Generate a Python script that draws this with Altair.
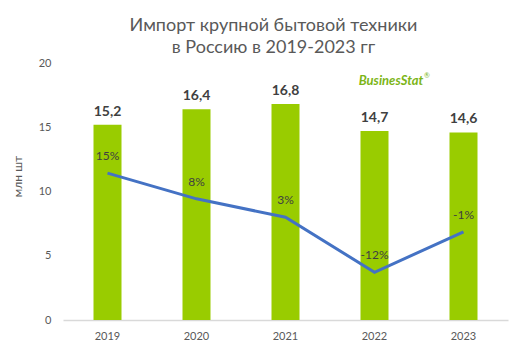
import altair as alt
import pandas as pd

years = ["2019", "2020", "2021", "2022", "2023"]
imports = [15.2, 16.4, 16.8, 14.7, 14.6]
growth = [15, 8, 3, -12, -1]
y_ticks = [0, 5, 10, 15, 20]

df = pd.DataFrame({
    "year": years,
    "value": imports,
    "label": [f"{v:.1f}".replace(".", ",") for v in imports],
    "growth": growth,
    "glabel": [f"{g}%" for g in growth],
})

FONT = "Lato"
GRAY = "#595959"
DARK = "#404040"

x = alt.X("year:N", title=None,
          scale=alt.Scale(paddingInner=0, paddingOuter=0),
          axis=alt.Axis(labelAngle=0, labelFont=FONT, labelFontSize=11, labelColor=GRAY,
                        domainColor="#d9d9d9", domainWidth=1.5, ticks=False, labelPadding=10))

bars = alt.Chart(df).mark_bar(size=28, color="#99cc00").encode(
    x=x,
    y=alt.Y("value:Q", title="млн  шт",
            scale=alt.Scale(domain=[0, 20]),
            axis=alt.Axis(values=y_ticks, grid=False, domain=False, ticks=False,
                          labelFont=FONT, labelFontSize=11, labelColor=GRAY, labelPadding=12,
                          titleFont=FONT, titleFontSize=12, titleFontWeight="normal",
                          titleColor=GRAY, titlePadding=14, titleY=113)),
)
bar_text = alt.Chart(df).mark_text(font=FONT, fontSize=14, fontWeight="bold", color=DARK,
                                   dy=-13, baseline="middle").encode(
    x=x, y=alt.Y("value:Q", scale=alt.Scale(domain=[0, 20])), text="label:N")

line = alt.Chart(df).mark_line(color="#4472c4", strokeWidth=3).encode(
    x=x,
    y=alt.Y("growth:Q", scale=alt.Scale(domain=[-25, 45]), axis=None),
)
line_text = alt.Chart(df).mark_text(font=FONT, fontSize=12, color=DARK, dy=-17,
                                    baseline="middle").encode(
    x=x, y=alt.Y("growth:Q", scale=alt.Scale(domain=[-25, 45]), axis=None), text="glabel:N")

logo = alt.Chart(pd.DataFrame({"t": ["BusinesStat"]})).mark_text(
    font=FONT, fontSize=13, fontWeight="bold", fontStyle="italic", color="#7cb518",
    baseline="middle", align="center").encode(
    x=alt.value(328), y=alt.value(18), text="t:N")
logo_r = alt.Chart(pd.DataFrame({"t": ["®"]})).mark_text(
    font=FONT, fontSize=7, color="#7cb518", baseline="middle", align="center").encode(
    x=alt.value(364), y=alt.value(13), text="t:N")

chart = alt.layer(
    alt.layer(bars, bar_text),
    alt.layer(line, line_text),
    logo, logo_r,
).resolve_scale(y="independent").properties(
    width=445, height=257,
    autosize=alt.AutoSizeParams(type="none"),
    padding={"left": 55, "top": 55, "right": 15, "bottom": 33},
    title=alt.TitleParams(["Импорт крупной бытовой техники", "в Россию в 2019-2023 гг"],
                          font=FONT, fontSize=18, fontWeight="normal", color=GRAY,
                          anchor="middle", dx=-12, offset=0, lineHeight=22),
).configure(background="white").configure_view(strokeWidth=0, stroke="transparent")

chart.save("out.html", embed_options={"renderer": "svg", "actions": False})
